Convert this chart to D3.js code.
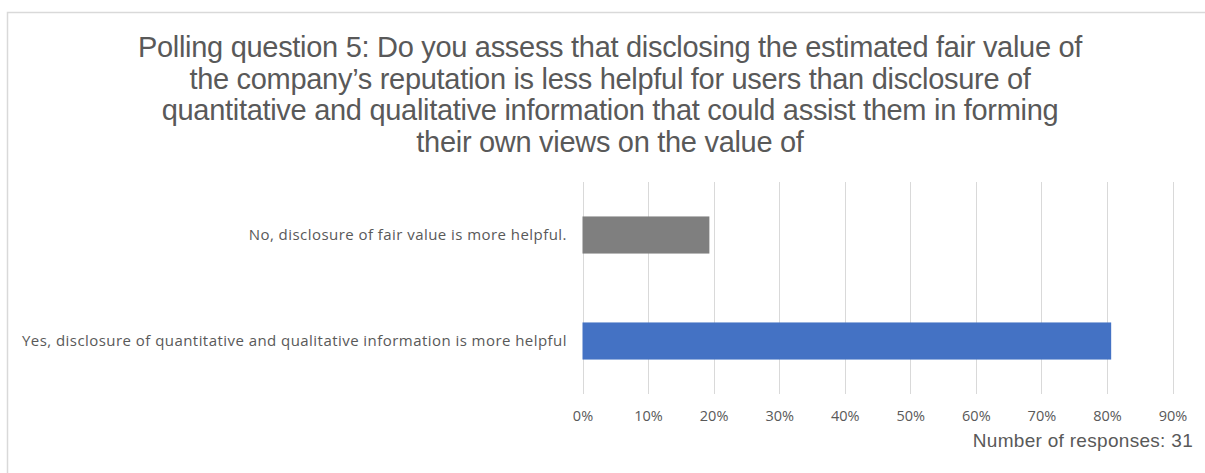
<!DOCTYPE html>
<html>
<head>
<meta charset="utf-8">
<script src="https://cdn.jsdelivr.net/npm/d3@7/dist/d3.min.js"></script>
<style>
  html, body { margin: 0; padding: 0; background: #fff; }
  svg { display: block; }
</style>
</head>
<body>
<svg id="chart" width="1205" height="473"></svg>
<script>
// Poll answers and their share of responses
const categories = [
  "No, disclosure of fair value is more helpful.",
  "Yes, disclosure of quantitative and qualitative information is more helpful"
];
const shares = [6 / 31, 25 / 31];
const barColors = ["#7f7f7f", "#4472c4"];
const tickValues = [0, 0.1, 0.2, 0.3, 0.4, 0.5, 0.6, 0.7, 0.8, 0.9];
const titleLines = [
  "Polling question 5: Do you assess that disclosing the estimated fair value of",
  "the company\u2019s reputation is less helpful for users than disclosure of",
  "quantitative and qualitative information that could assist them in forming",
  "their own views on the value of"
];
const footnote = "Number of responses: 31";

const svg = d3.select("#chart");
const textColor = "#595959";

// Chart frame
svg.append("path")
  .attr("d", "M7.5,473 V12.5 H1205")
  .attr("fill", "none")
  .attr("stroke", "#d9d9d9")
  .attr("stroke-width", 1.5);

// Title
svg.append("g")
  .selectAll("text")
  .data(titleLines)
  .join("text")
  .attr("x", 610)
  .attr("y", (d, i) => 57 + i * 31.5)
  .attr("text-anchor", "middle")
  .attr("font-family", "'Liberation Sans', Arial, sans-serif")
  .attr("font-size", 29)
  .attr("letter-spacing", -0.3)
  .attr("fill", textColor)
  .text(d => d);

const x = d3.scaleLinear().domain([0, 0.9]).range([582.5, 1172.5]);
const y = d3.scaleBand()
  .domain(categories)
  .range([182, 394])
  .paddingInner(0.65)
  .paddingOuter(0.325);

// Vertical gridlines
svg.append("g")
  .selectAll("line")
  .data(tickValues)
  .join("line")
  .attr("x1", d => Math.round(x(d)) + 0.5)
  .attr("x2", d => Math.round(x(d)) + 0.5)
  .attr("y1", 182)
  .attr("y2", 394)
  .attr("stroke", "#d9d9d9")
  .attr("stroke-width", 1);

// Bars
svg.append("g")
  .selectAll("rect")
  .data(categories)
  .join("rect")
  .attr("x", x(0))
  .attr("y", d => y(d))
  .attr("width", (d, i) => x(shares[i]) - x(0))
  .attr("height", y.bandwidth())
  .attr("fill", (d, i) => barColors[i]);

// Category axis labels
const yAxis = svg.append("g")
  .attr("transform", "translate(582,0)")
  .call(d3.axisLeft(y).tickSize(0).tickPadding(15));
yAxis.select(".domain").remove();
yAxis.selectAll("text")
  .attr("font-family", "'Open Sans', sans-serif")
  .attr("font-size", 15)
  .attr("letter-spacing", 0.45)
  .attr("fill", textColor);

// Percentage axis
const xAxis = svg.append("g")
  .attr("transform", "translate(0,394)")
  .call(d3.axisBottom(x).tickValues(tickValues).tickFormat(d3.format(".0%")).tickSize(0).tickPadding(17));
xAxis.select(".domain").remove();
xAxis.selectAll("text")
  .attr("font-family", "'Open Sans', sans-serif")
  .attr("font-size", 14.5)
  .attr("fill", textColor);

// Response count
svg.append("text")
  .attr("x", 1193)
  .attr("y", 447)
  .attr("text-anchor", "end")
  .attr("font-family", "'Liberation Sans', Arial, sans-serif")
  .attr("font-size", 19)
  .attr("letter-spacing", 0.3)
  .attr("fill", textColor)
  .text(footnote);
</script>
</body>
</html>
